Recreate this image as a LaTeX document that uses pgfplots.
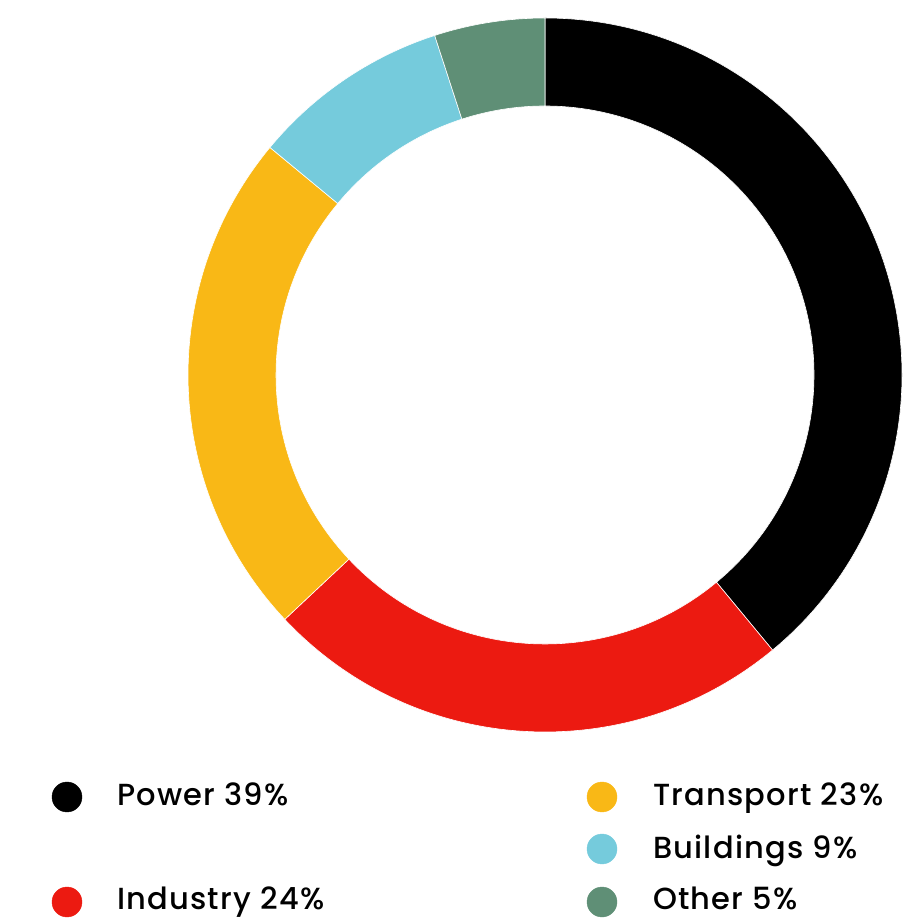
\documentclass[border=0pt]{standalone}
\usepackage{pgfplots}
\pgfplotsset{compat=1.18}
\usepackage{fontspec}
\setmainfont{Poppins Medium}[LetterSpace=4.0]
\definecolor{cpow}{HTML}{000000}
\definecolor{cind}{HTML}{EC1A11}
\definecolor{ctra}{HTML}{F9B816}
\definecolor{cbui}{HTML}{75CBDC}
\definecolor{coth}{HTML}{5F8F76}
% donut segment: start angle, value (percent), colour
\newcommand\seg[3]{%
  \fill[#3, draw=white, line width=0.6pt]
    (axis cs:{545+357*cos(#1)},{543+357*sin(#1)})
    arc[start angle=#1, end angle={#1-3.6*#2}, radius=357pt]
    -- (axis cs:{545+269*cos(#1-3.6*#2)},{543+269*sin(#1-3.6*#2)})
    arc[start angle={#1-3.6*#2}, end angle=#1, radius=269pt] -- cycle;}
\begin{document}
\begin{tikzpicture}
\begin{axis}[x=1pt, y=1pt, xmin=0, xmax=923, ymin=0, ymax=918,
  hide axis, clip=false]
\path (axis cs:0,0) rectangle (axis cs:923,918);
\seg{90}{39}{cpow}
\seg{-50.4}{24}{cind}
\seg{-136.8}{23}{ctra}
\seg{-219.6}{9}{cbui}
\seg{-252}{5}{coth}
% legend markers
\addplot[only marks, mark=*, mark size=15pt, color=cpow] coordinates {(67,121)};
\addplot[only marks, mark=*, mark size=15pt, color=cind] coordinates {(67,16)};
\addplot[only marks, mark=*, mark size=15pt, color=ctra] coordinates {(602,121)};
\addplot[only marks, mark=*, mark size=15pt, color=cbui] coordinates {(602,69)};
\addplot[only marks, mark=*, mark size=15pt, color=coth] coordinates {(602,16)};
\begin{scope}[every node/.style={anchor=base west, inner sep=0pt, font=\fontsize{30.5}{36}\selectfont}]
\node at (axis cs:117,112) {Power 39\%};
\node at (axis cs:117,9) {Industry 24\%};
\node at (axis cs:653,112) {Transport 23\%};
\node at (axis cs:653,60) {Buildings 9\%};
\node at (axis cs:653,9) {Other 5\%};
\end{scope}
\end{axis}
\end{tikzpicture}
\end{document}
